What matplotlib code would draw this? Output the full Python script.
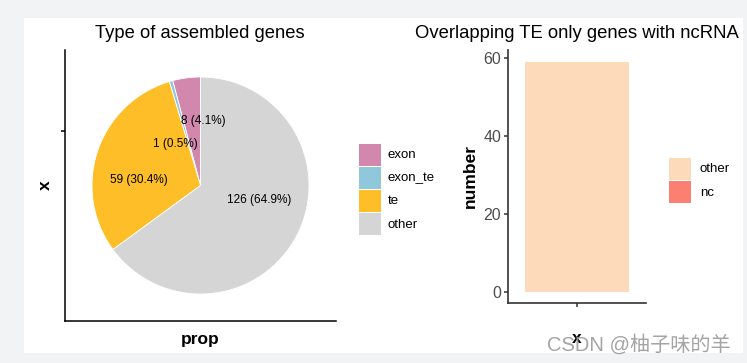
import matplotlib.pyplot as plt
from matplotlib.patches import Rectangle

plt.rcParams['font.family'] = ['Liberation Sans', 'DejaVu Sans']

# left panel: pie of assembled gene types
gene_types = ['exon', 'exon_te', 'te', 'other']
gene_counts = [8, 1, 59, 126]
gene_colors = ['#D287AD', '#8EC8DA', '#FEBE28', '#D5D5D5']
# label offsets in pie-radius units
label_pos = [(0.03, 0.59), (-0.235, 0.378), (-0.57, 0.055), (0.545, -0.13)]

# right panel: bar of TE only genes
bar_cats = ['x']
bar_values = [59]
bar_legend = ['other', 'nc']
bar_colors = ['#FDDBBA', '#FA8072']
y_ticks = [0, 20, 40, 60]

W, H = 747, 363
fig = plt.figure(figsize=(W / 100, H / 100), dpi=100, facecolor='#f2f3f5')
fig.patches.append(Rectangle((24 / W, 1 - 353 / H), (743 - 24) / W, (353 - 18) / H,
                             transform=fig.transFigure, facecolor='white',
                             edgecolor='none', zorder=-10))


def box(x0, y0, x1, y1):
    return [x0 / W, 1 - y1 / H, (x1 - x0) / W, (y1 - y0) / H]


# ---- pie ----
ax1 = fig.add_axes(box(65, 50, 336, 321))
ax1.set_facecolor('none')
total = sum(gene_counts)
ax1.pie(gene_counts, colors=gene_colors, startangle=90, counterclock=True,
        radius=1.0, center=(0, 0), frame=True,
        wedgeprops=dict(edgecolor='white', linewidth=0.6))
for (dx, dy), n in zip(label_pos, gene_counts):
    ax1.text(dx, dy, f'{n} ({n / total * 100:.1f}%)', ha='center', va='center',
             fontsize=8.5, color='black')
# pie radius 108.5px inside 271px axes
half = 271 / 2 / 108.5
ax1.set_xlim(-half, half)
ax1.set_ylim(-half, half)
ax1.set_aspect('auto')
for s in ['top', 'right']:
    ax1.spines[s].set_visible(False)
for s in ['left', 'bottom']:
    ax1.spines[s].set_linewidth(1.1)
    ax1.spines[s].set_color('black')
ax1.set_xticks([])
ax1.set_yticks([(321 - 131) / 271 * 2 * half - half])
ax1.set_yticklabels([''])
ax1.tick_params(axis='y', length=3, width=1.1, color='black')
ax1.set_xlabel('prop', fontsize=12.5, fontweight='bold', labelpad=8)
ax1.set_ylabel('x', fontsize=12.5, fontweight='bold', labelpad=2)
fig.text(200 / W, 1 - 33 / H, 'Type of assembled genes', ha='center', va='center',
         fontsize=13.2)

# pie legend
for i, (name, c) in enumerate(zip(gene_types, gene_colors)):
    y0 = 144 + i * 23
    fig.patches.append(Rectangle((359 / W, 1 - (y0 + 22) / H), 22 / W, 22 / H,
                                 transform=fig.transFigure, facecolor=c,
                                 edgecolor='none'))
    fig.text(388 / W, 1 - (y0 + 11.5) / H, name, ha='left', va='center', fontsize=9.5)

# ---- bar ----
ax2 = fig.add_axes(box(508, 50, 646, 303))
ax2.set_facecolor('none')
ax2.bar([1], bar_values, width=0.9, color=bar_colors[0])
ax2.set_xlim(0.4, 1.6)
ax2.set_ylim(-2.95, 61.95)
ax2.set_xticks([1])
ax2.set_xticklabels([''])
ax2.set_yticks(y_ticks)
ax2.tick_params(axis='both', length=3, width=1.1, color='#333333',
                labelsize=11.5, labelcolor='#4D4D4D', pad=2)
for s in ['top', 'right']:
    ax2.spines[s].set_visible(False)
for s in ['left', 'bottom']:
    ax2.spines[s].set_linewidth(1.2)
    ax2.spines[s].set_color('#333333')
ax2.set_ylabel('number', fontsize=12.5, fontweight='bold', labelpad=4)
ax2.set_xlabel(bar_cats[0], fontsize=12.5, fontweight='bold', labelpad=15)
fig.text(577 / W, 1 - 33 / H, 'Overlapping TE only genes with ncRNA', ha='center',
         va='center', fontsize=13.3)

for i, (name, c) in enumerate(zip(bar_legend, bar_colors)):
    y0 = 158 + i * 23
    fig.patches.append(Rectangle((669 / W, 1 - (y0 + 22) / H), 22 / W, 22 / H,
                                 transform=fig.transFigure, facecolor=c,
                                 edgecolor='none'))
    fig.text(700 / W, 1 - (y0 + 11.5) / H, name, ha='left', va='center', fontsize=9.5)

# watermark
fig.text(731 / W, 1 - 344 / H, 'CSDN @柚子味的羊', ha='right', va='center',
         fontsize=14.5, color='#9a9a9a', alpha=0.9,
         family=['Liberation Sans', 'Noto Sans CJK SC', 'DejaVu Sans'])

fig.savefig('out.png', dpi=100, facecolor=fig.get_facecolor())
